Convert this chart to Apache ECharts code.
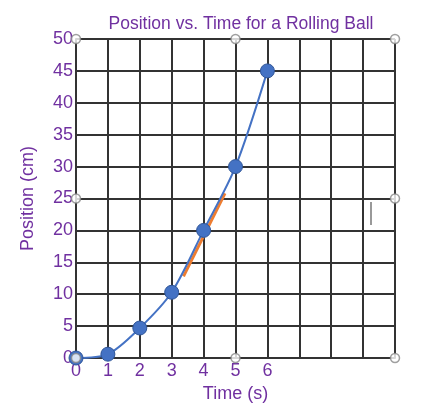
<!DOCTYPE html>
<html><head><meta charset="utf-8">
<script src="https://cdn.jsdelivr.net/npm/echarts@6/dist/echarts.min.js"></script>
<style>html,body{margin:0;padding:0;background:#fff}#c{width:444px;height:415px}</style>
</head><body><div id="c"></div>
<script>
const times = [0, 1, 2, 3, 4, 5, 6];
const positions = [0, 0.6, 4.7, 10.3, 20, 30, 45];
const tangentX = [3.37, 4.67];
const tangentY = [12.8, 25.8];
const xTickLabels = ['0','1','2','3','4','5','6'];
const handleX = [0, 5, 10, 0, 10, 0, 5, 10];
const handleY = [50, 50, 50, 25, 25, 0, 0, 0];

const purple = '#7030A0';
const font = 'Liberation Sans';
const chart = echarts.init(document.getElementById('c'));
chart.setOption({
  animation: false,
  title: {text: 'Position vs. Time for a Rolling Ball', left: 236, top: 10, textAlign: 'center',
    textStyle: {color: purple, fontFamily: font, fontSize: 17.5, fontWeight: 'normal'}},
  grid: {left: 76, right: 49, top: 39, bottom: 57},
  xAxis: {type: 'value', min: 0, max: 10, interval: 1,
    name: 'Time (s)', nameLocation: 'middle', nameGap: 22,
    nameTextStyle: {color: purple, fontFamily: font, fontSize: 18},
    axisLine: {show: true, lineStyle: {color: '#333', width: 2}},
    axisTick: {show: false},
    axisLabel: {color: purple, fontFamily: font, fontSize: 18, margin: 4,
      formatter: v => (xTickLabels.indexOf(String(v)) >= 0 ? String(v) : '')},
    splitLine: {show: true, lineStyle: {color: '#333', width: 2}}},
  yAxis: {type: 'value', min: 0, max: 50, interval: 5,
    name: 'Position (cm)', nameLocation: 'middle', nameGap: 39, nameRotate: 90,
    nameTextStyle: {color: purple, fontFamily: font, fontSize: 18},
    axisLine: {show: true, lineStyle: {color: '#333', width: 2}},
    axisTick: {show: false},
    axisLabel: {color: purple, fontFamily: font, fontSize: 18, margin: 3},
    splitLine: {show: true, lineStyle: {color: '#333', width: 2}}},
  series: [
    {type: 'line', data: tangentX.map((x, i) => [x, tangentY[i]]), symbol: 'none',
      lineStyle: {color: '#ED7D31', width: 3}, z: 2},
    {type: 'line', data: times.map((t, i) => [t, positions[i]]), smooth: 0.3,
      symbol: 'circle', symbolSize: 14,
      lineStyle: {color: '#4472C4', width: 2},
      itemStyle: {color: '#4472C4', borderColor: '#2F5597', borderWidth: 1}, z: 3},
    {type: 'scatter', data: handleX.map((x, i) => [x, handleY[i]]), symbol: 'circle', symbolSize: 9,
      itemStyle: {color: '#fff', borderColor: '#888', borderWidth: 1.5}, z: 5}
  ],
  graphic: [{type: 'line', shape: {x1: 371, y1: 202, x2: 371, y2: 225},
    style: {stroke: '#777', lineWidth: 1.5}}]
});
</script></body></html>
